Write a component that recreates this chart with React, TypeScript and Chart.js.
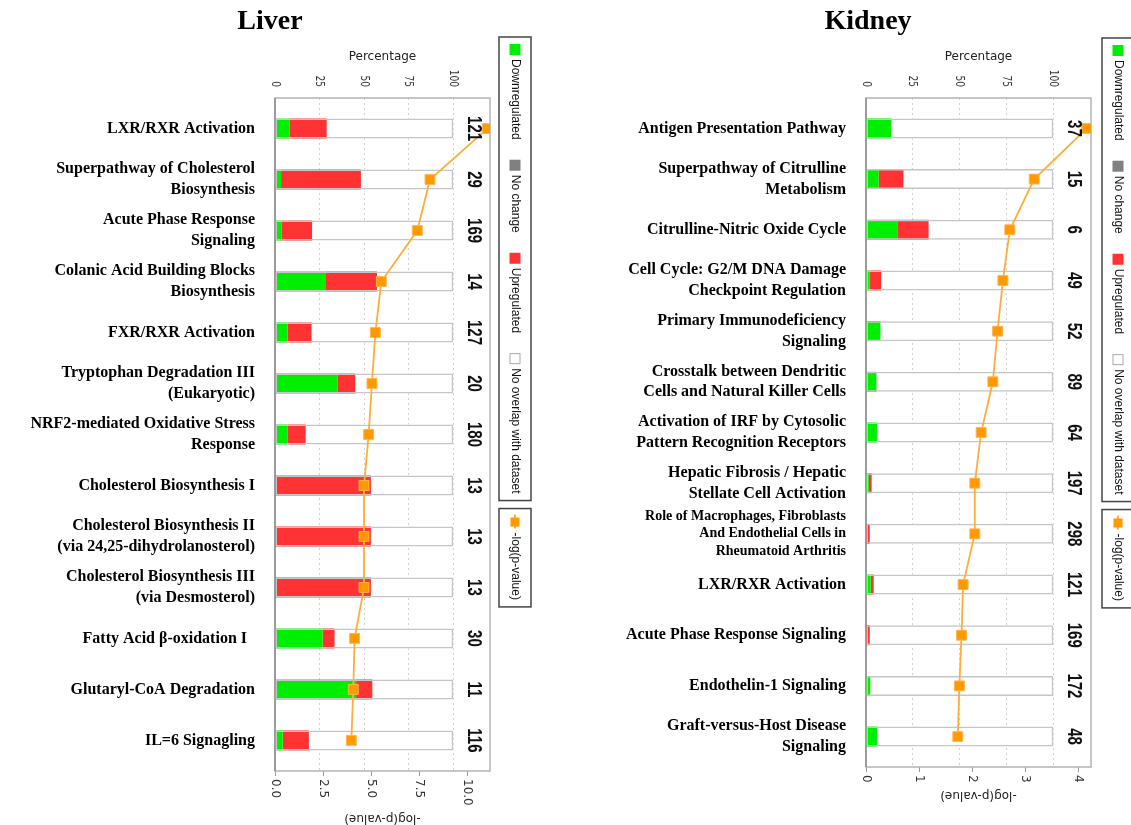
import React, { useEffect, useRef } from 'react';
import { Chart, registerables } from 'chart.js';

Chart.register(...registerables);

// ---------------- Liver ----------------
const liverCategories: (string | string[])[] = [
  'LXR/RXR Activation',
  ['Superpathway of Cholesterol', 'Biosynthesis'],
  ['Acute Phase Response', 'Signaling'],
  ['Colanic Acid Building Blocks', 'Biosynthesis'],
  'FXR/RXR Activation',
  ['Tryptophan Degradation III', '(Eukaryotic)'],
  ['NRF2-mediated Oxidative Stress', 'Response'],
  'Cholesterol Biosynthesis I',
  ['Cholesterol Biosynthesis II', '(via 24,25-dihydrolanosterol)'],
  ['Cholesterol Biosynthesis III', '(via Desmosterol)'],
  'Fatty Acid β-oxidation I  ',
  'Glutaryl-CoA Degradation',
  'IL=6 Signagling',
];
const liverDown = [8.3, 3.4, 3.6, 28.6, 7.1, 35.0, 7.2, 0, 0, 0, 26.7, 45.5, 4.3];
const liverNoChange = [0, 0, 0, 0, 0, 0, 0, 0, 0, 0, 0, 0, 0];
const liverUp = [20.7, 44.8, 17.2, 28.6, 13.4, 10.0, 10.0, 53.8, 53.8, 53.8, 6.7, 9.1, 14.7];
const liverCounts = [121, 29, 169, 14, 127, 20, 180, 13, 13, 13, 30, 11, 116];
const liverLogP = [11.04, 8.06, 7.4, 5.53, 5.22, 5.04, 4.87, 4.63, 4.63, 4.63, 4.14, 4.07, 3.97];
const liverPctTicks = [0, 25, 50, 75, 100];
const liverLogPTicks = ['0.0', '2.5', '5.0', '7.5', '10.0'];

// ---------------- Kidney ----------------
const kidneyCategories: (string | string[])[] = [
  'Antigen Presentation Pathway',
  ['Superpathway of Citrulline', 'Metabolism'],
  'Citrulline-Nitric Oxide Cycle',
  ['Cell Cycle: G2/M DNA Damage', 'Checkpoint Regulation'],
  ['Primary Immunodeficiency', 'Signaling'],
  ['Crosstalk between Dendritic', 'Cells and Natural Killer Cells'],
  ['Activation of IRF by Cytosolic', 'Pattern Recognition Receptors'],
  ['Hepatic Fibrosis / Hepatic', 'Stellate Cell Activation'],
  ['Role of Macrophages, Fibroblasts', 'And Endothelial Cells in', 'Rheumatoid Arthritis'],
  'LXR/RXR Activation',
  'Acute Phase Response Signaling',
  'Endothelin-1 Signaling',
  ['Graft-versus-Host Disease', 'Signaling'],
];
const kidneyDown = [13.5, 6.7, 16.7, 2.0, 7.7, 5.6, 6.0, 1.5, 0, 2.5, 0, 2.3, 6.0];
const kidneyNoChange = [0, 0, 0, 0, 0, 0, 0, 0, 0, 0, 0, 0, 0];
const kidneyUp = [0, 13.3, 16.7, 6.1, 0, 0, 0, 1.5, 2.0, 1.6, 2.0, 0, 0];
const kidneyCounts = [37, 15, 6, 49, 52, 89, 64, 197, 298, 121, 169, 172, 48];
const kidneyLogP = [4.16, 3.17, 2.71, 2.58, 2.48, 2.39, 2.17, 2.05, 2.05, 1.83, 1.8, 1.76, 1.73];
const kidneyPctTicks = [0, 25, 50, 75, 100];
const kidneyLogPTicks = ['0', '1', '2', '3', '4'];

const COLORS = {
  down: '#00ee00',
  noChange: '#808080',
  up: '#ff3333',
  none: '#ffffff',
  frame: '#c6c6c6',
  line: '#ffad3b',
  point: '#ff9900',
  pointBorder: '#ffb54d',
};

type Spec = {
  title: string;
  categories: (string | string[])[];
  down: number[];
  noChange: number[];
  up: number[];
  counts: number[];
  logP: number[];
  pctTicks: number[];
  logPTicks: string[];
  left: number;
  width: number;
  top: number;
  bottom: number;
  padRight: number;
  yWidth: number;
  pctMax: number;
  logPMax: number;
  titleX: number;
  legendTop: number;
  legendGap: number;
};

const H = 825;

function drawRot(
  ctx: CanvasRenderingContext2D,
  text: string,
  x: number,
  y: number,
  angle: number,
  align: CanvasTextAlign,
  font: string,
  color: string,
  sx = 1
) {
  ctx.save();
  ctx.translate(x, y);
  ctx.rotate(angle);
  ctx.scale(sx, 1);
  ctx.font = font;
  ctx.fillStyle = color;
  ctx.textAlign = align;
  ctx.textBaseline = 'middle';
  ctx.fillText(text, 0, 0);
  ctx.restore();
}

function makeDecor(spec: Spec) {
  return {
    id: 'panelDecor',
    beforeDatasetsDraw(chart: any) {
      const { ctx, chartArea: a } = chart;
      ctx.save();
      ctx.strokeStyle = '#b4b4b4';
      ctx.lineWidth = 1.5;
      ctx.strokeRect(a.left, a.top, a.right - a.left, a.bottom - a.top);
      ctx.strokeStyle = '#9c9c9c';
      ctx.lineWidth = 2;
      ctx.beginPath();
      ctx.moveTo(a.left, a.top);
      ctx.lineTo(a.left, a.bottom);
      ctx.stroke();
      ctx.restore();
    },
    afterDraw(chart: any) {
      const { ctx, chartArea: a, scales } = chart;
      const xs = scales.x;
      const x2 = scales.x2;
      const ys = scales.y;
      const cx = (a.left + a.right) / 2;

      // Panel title
      ctx.save();
      ctx.font = 'bold 28px "Liberation Serif", "Times New Roman", serif';
      ctx.fillStyle = '#000';
      ctx.textAlign = 'center';
      ctx.textBaseline = 'middle';
      ctx.fillText(spec.title, spec.titleX, 22);

      // Top axis title
      ctx.font = '12px "DejaVu Sans", sans-serif';
      ctx.fillStyle = '#222';
      ctx.fillText('Percentage', cx, 57);
      ctx.restore();

      // Top ticks (rotated)
      const topFont = '13px "DejaVu Sans", sans-serif';
      xs.ticks.forEach((t: any) => {
        const px = xs.getPixelForValue(t.value);
        drawRot(ctx, String(t.label), px, a.top - 11, Math.PI / 2, 'right', topFont, '#333', 0.7);
      });

      // Bottom ticks (rotated)
      const botFont = '12px "DejaVu Sans", sans-serif';
      ctx.save();
      ctx.font = botFont;
      let maxLen = 0;
      x2.ticks.forEach((t: any) => {
        maxLen = Math.max(maxLen, ctx.measureText(String(t.label)).width);
      });
      ctx.restore();
      x2.ticks.forEach((t: any) => {
        const px = x2.getPixelForValue(t.value);
        drawRot(ctx, String(t.label), px, a.bottom + 8, Math.PI / 2, 'left', botFont, '#333');
      });
      // Bottom axis title, upside down
      const lineDs = chart.data.datasets.find((d: any) => d.type === 'line');
      drawRot(ctx, lineDs.label, cx, a.bottom + 8 + maxLen + 12, Math.PI, 'center', botFont, '#222');

      // Count labels
      const countX = xs.getPixelForValue(100) + 20;
      spec.counts.forEach((c, i) => {
        const py = ys.getPixelForValue(i);
        drawRot(ctx, String(c), countX, py, Math.PI / 2, 'center', 'bold 20px "Liberation Sans", Arial, sans-serif', '#111', 0.75);
      });

      // Legends (rotated)
      const lx = a.right + spec.legendGap + 16;
      ctx.save();
      ctx.translate(lx, 0);
      ctx.rotate(Math.PI / 2);
      ctx.font = '12px "Liberation Sans", Arial, sans-serif';
      ctx.textBaseline = 'middle';
      ctx.textAlign = 'left';
      const items = chart.data.datasets.filter((d: any) => d.type !== 'line' && d.inLegend !== false);
      const start = spec.legendTop;
      let u = start + 7;
      items.forEach((d: any, k: number) => {
        ctx.fillStyle = d.backgroundColor;
        ctx.fillRect(u, -5.5, 11, 11);
        if (d.backgroundColor === '#ffffff') {
          ctx.strokeStyle = '#aaa';
          ctx.lineWidth = 1;
          ctx.strokeRect(u + 0.5, -5, 10, 10);
        }
        u += 15;
        ctx.fillStyle = '#111';
        ctx.fillText(d.label, u, 0);
        u += ctx.measureText(d.label).width;
        if (k < items.length - 1) u += 20;
      });
      u += 7;
      ctx.strokeStyle = '#444';
      ctx.lineWidth = 1.5;
      ctx.strokeRect(start, -16, u - start, 32);

      // Line legend box
      const s2 = u + 8;
      let w = s2 + 6;
      ctx.strokeStyle = COLORS.line;
      ctx.lineWidth = 2;
      ctx.beginPath();
      ctx.moveTo(w, 0);
      ctx.lineTo(w + 14, 0);
      ctx.stroke();
      ctx.fillStyle = COLORS.point;
      ctx.fillRect(w + 3, -4.5, 9, 9);
      w += 18;
      ctx.fillStyle = '#111';
      ctx.fillText(lineDs.label, w, 0);
      w += ctx.measureText(lineDs.label).width + 7;
      ctx.strokeStyle = '#444';
      ctx.lineWidth = 1.5;
      ctx.strokeRect(s2, -16, w - s2, 32);
      ctx.restore();
    },
  };
}

function Panel({ spec }: { spec: Spec }) {
  const ref = useRef<HTMLCanvasElement>(null);
  useEffect(() => {
    const canvas = ref.current;
    if (!canvas) return;
    const n = spec.categories.length;
    const idx = spec.categories.map((_, i) => i);
    const seg = (vals: number[]) => vals.map((v, i) => ({ x: v, y: i }));
    const none = spec.down.map((d, i) => 100 - d - spec.noChange[i] - spec.up[i]);
    const chart = new Chart(canvas, {
      type: 'bar',
      data: {
        datasets: [
          { label: 'Downregulated', data: seg(spec.down), backgroundColor: COLORS.down, xAxisID: 'x', yAxisID: 'y', stack: 'pct', order: 2 },
          { label: 'No change', data: seg(spec.noChange), backgroundColor: COLORS.noChange, xAxisID: 'x', yAxisID: 'y', stack: 'pct', order: 2 },
          { label: 'Upregulated', data: seg(spec.up), backgroundColor: COLORS.up, xAxisID: 'x', yAxisID: 'y', stack: 'pct', order: 2 },
          { label: 'No overlap with dataset', data: seg(none), backgroundColor: COLORS.none, xAxisID: 'x', yAxisID: 'y', stack: 'pct', order: 2 },
          {
            label: 'frame',
            inLegend: false,
            data: seg(idx.map(() => 100)),
            backgroundColor: 'rgba(0,0,0,0)',
            borderColor: COLORS.frame,
            borderWidth: 1.5,
            borderSkipped: false,
            xAxisID: 'x',
            yAxisID: 'y',
            stack: 'frame',
            order: 1,
          },
          {
            type: 'line',
            label: '-log(p-value)',
            data: spec.logP.map((v, i) => ({ x: v, y: i })),
            xAxisID: 'x2',
            yAxisID: 'y',
            indexAxis: 'y',
            borderColor: COLORS.line,
            borderWidth: 1.8,
            pointStyle: 'rect',
            pointRadius: 7,
            pointBackgroundColor: COLORS.point,
            pointBorderColor: COLORS.pointBorder,
            pointBorderWidth: 1,
            fill: false,
            tension: 0,
            order: 0,
          },
        ] as any,
      },
      options: {
        responsive: false,
        animation: false,
        events: [],
        indexAxis: 'y',
        layout: { padding: { left: 0, top: spec.top, right: spec.padRight, bottom: H - spec.bottom } },
        datasets: { bar: { grouped: false, maxBarThickness: 20, borderWidth: 0 } } as any,
        plugins: { legend: { display: false }, tooltip: { enabled: false }, title: { display: false } },
        scales: {
          x: {
            type: 'linear',
            position: 'top',
            stacked: true,
            offset: false,
            min: 0,
            max: spec.pctMax,
            afterBuildTicks: (s: any) => {
              s.ticks = spec.pctTicks.map((v) => ({ value: v }));
            },
            afterFit: (s: any) => {
              s.height = 0;
            },
            ticks: { display: false },
            grid: { color: '#d0d0d0', lineWidth: 1, drawTicks: false, offset: false },
            border: { display: false, dash: [2, 3] },
          },
          x2: {
            type: 'linear',
            axis: 'x',
            position: 'bottom',
            offset: false,
            min: 0,
            max: spec.logPMax,
            afterBuildTicks: (s: any) => {
              s.ticks = spec.logPTicks.map((l) => ({ value: parseFloat(l) }));
            },
            afterFit: (s: any) => {
              s.height = 0;
            },
            ticks: { display: false, callback: (_v: any, i: number) => spec.logPTicks[i] },
            grid: { drawOnChartArea: false, drawTicks: true, tickLength: 5, color: '#999', tickColor: '#999', offset: false },
            border: { display: false },
          },
          y: {
            type: 'linear',
            offset: false,
            min: -0.6,
            max: n - 1 + 0.6,
            reverse: true,
            afterBuildTicks: (s: any) => {
              s.ticks = idx.map((v) => ({ value: v }));
            },
            afterFit: (s: any) => {
              s.width = spec.yWidth;
            },
            ticks: {
              autoSkip: false,
              padding: 12,
              color: '#000',
              callback: (v: any) => spec.categories[v as number],
              font: (c: any) => {
                const lab = spec.categories[c.index];
                const small = Array.isArray(lab) && lab.length > 2;
                return {
                  family: '"Liberation Serif", "Times New Roman", serif',
                  weight: 'bold',
                  size: small ? 14 : 16,
                  lineHeight: small ? 1.25 : 1.3,
                };
              },
            },
            grid: { display: false, offset: false },
            border: { display: false },
          },
        } as any,
      },
      plugins: [makeDecor(spec) as any],
    });
    return () => chart.destroy();
  }, [spec]);
  return (
    <canvas
      ref={ref}
      width={spec.width}
      height={H}
      style={{ position: 'absolute', left: spec.left, top: 0, width: spec.width, height: H }}
    />
  );
}

const liverSpec: Spec = {
  title: 'Liver',
  categories: liverCategories,
  down: liverDown,
  noChange: liverNoChange,
  up: liverUp,
  counts: liverCounts,
  logP: liverLogP,
  pctTicks: liverPctTicks,
  logPTicks: liverLogPTicks,
  left: 0,
  width: 545,
  top: 98,
  bottom: 771,
  padRight: 55,
  yWidth: 275,
  pctMax: 120.6,
  logPMax: 11.18,
  titleX: 270,
  legendTop: 37,
  legendGap: 9,
};

const kidneySpec: Spec = {
  title: 'Kidney',
  categories: kidneyCategories,
  down: kidneyDown,
  noChange: kidneyNoChange,
  up: kidneyUp,
  counts: kidneyCounts,
  logP: kidneyLogP,
  pctTicks: kidneyPctTicks,
  logPTicks: kidneyLogPTicks,
  left: 590,
  width: 541,
  top: 98,
  bottom: 767,
  padRight: 40,
  yWidth: 276,
  pctMax: 120.1,
  logPMax: 4.24,
  titleX: 278,
  legendTop: 38,
  legendGap: 11,
};

export default function App() {
  return (
    <div
      style={{
        position: 'fixed',
        left: 0,
        top: 0,
        width: 1131,
        height: H,
        overflow: 'hidden',
        background: '#ffffff',
      }}
    >
      <Panel spec={liverSpec} />
      <Panel spec={kidneySpec} />
    </div>
  );
}
